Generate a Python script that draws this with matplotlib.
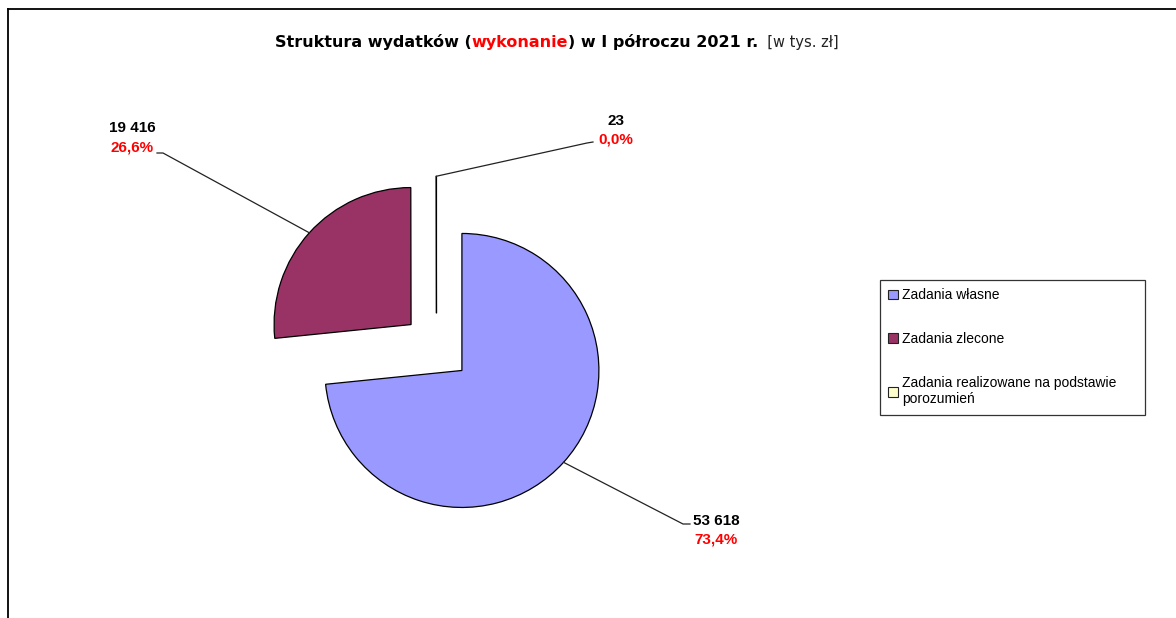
import matplotlib
matplotlib.use("Agg")
import matplotlib.pyplot as plt
from matplotlib.patches import Patch
from matplotlib.lines import Line2D
import numpy as np

# ---- data ----
categories = ["Zadania własne", "Zadania zlecone",
              "Zadania realizowane na podstawie\nporozumień"]
values = [53618, 19416, 23]
colors = ["#9999FF", "#993366", "#FFFFCC"]
title_parts = ["Struktura wydatków (", "wykonanie", ") w I półroczu 2021 r.", "  [w tys. zł]"]

W, H = 1176, 618
plt.rcParams['font.family'] = ['Liberation Sans', 'DejaVu Sans']

fig = plt.figure(figsize=(W / 100, H / 100), dpi=100)
fig.patch.set_facecolor("white")

# frame lines (top and left)
fig.add_artist(Line2D([8 / W, 8 / W], [0, 1 - 9 / H], color="black", lw=1.3))
fig.add_artist(Line2D([8 / W, 1], [1 - 9 / H, 1 - 9 / H], color="black", lw=1.3))

# pie axes: center (436.5, 347.5) px, radius 137 px
R = 137.0
cx, cy = 436.5, 347.5
L = 220.0
ax = fig.add_axes([(cx - L) / W, (H - cy - L) / H, 2 * L / W, 2 * L / H])
wedges, _ = ax.pie(values, colors=colors, startangle=90, counterclock=False,
                   explode=[0.25] * len(values), radius=1.0, frame=True,
                   wedgeprops=dict(edgecolor="black", linewidth=0.9))
ax.set_xlim(-L / R, L / R)
ax.set_ylim(-L / R, L / R)
ax.set_aspect("equal")
ax.axis("off")

total = sum(values)

def fmt_num(v):
    return f"{v:,}".replace(",", " ")

def fmt_pct(v):
    return f"{100 * v / total:.1f}".replace(".", ",") + "%"

# label layout (image px): text center x, first line y, knee point, line end
label_layout = [
    dict(tx=716, ty=521, knee=(683, 524), end=(690, 524)),
    dict(tx=132, ty=128.5, knee=(163, 153), end=(157, 153)),
    dict(tx=616, ty=121, knee=(587, 143), end=(593, 142)),
]

fig.canvas.draw()
for w, v, lay in zip(wedges, values, label_layout):
    th = np.deg2rad(0.5 * (w.theta1 + w.theta2))
    ax_pt = (w.center[0] + w.r * np.cos(th), w.center[1] + w.r * np.sin(th))
    px, py = ax.transData.transform(ax_pt)
    kx, ky = lay["knee"]
    ex, ey = lay["end"]
    fig.add_artist(Line2D([px, kx, ex], [py, H - ky, H - ey], transform=None,
                          color="#222222", lw=0.9))
    fig.text(lay["tx"] / W, 1 - lay["ty"] / H, fmt_num(v), ha="center", va="center",
             fontsize=11, fontweight="bold", color="black")
    fig.text(lay["tx"] / W, 1 - (lay["ty"] + 18.5) / H, fmt_pct(v), ha="center", va="center",
             fontsize=11, fontweight="bold", color="#FF0000")

# title (multi-coloured)
tfam = ['DejaVu Sans']
prev = fig.text(275 / W, 1 - 47 / H, title_parts[0], fontsize=11.5, fontweight="bold",
                color="black", ha="left", va="baseline", family=tfam)
styles = [dict(color="#FF0000", fontweight="bold", fontsize=11.5),
          dict(color="black", fontweight="bold", fontsize=11.5),
          dict(color="#222222", fontweight="normal", fontsize=10.5)]
for part, st in zip(title_parts[1:], styles):
    prev = ax.annotate(part, xy=(1, 0), xycoords=prev, va="bottom", ha="left",
                       annotation_clip=False, family=tfam, **st)

# legend
handles = [Patch(facecolor=c, edgecolor="#222222", linewidth=0.8) for c in colors]
leg = fig.legend(handles, categories, loc="upper left",
                 bbox_to_anchor=(880 / W, 1 - 280 / H, 265 / W, 0), mode="expand",
                 fontsize=10, frameon=True, fancybox=False, borderaxespad=0,
                 handlelength=0.7, handleheight=0.7, handletextpad=0.3,
                 labelspacing=2.15, borderpad=0.6)
leg.get_frame().set_edgecolor("black")
leg.get_frame().set_linewidth(0.9)

fig.savefig("out.png", dpi=100, facecolor="white")
